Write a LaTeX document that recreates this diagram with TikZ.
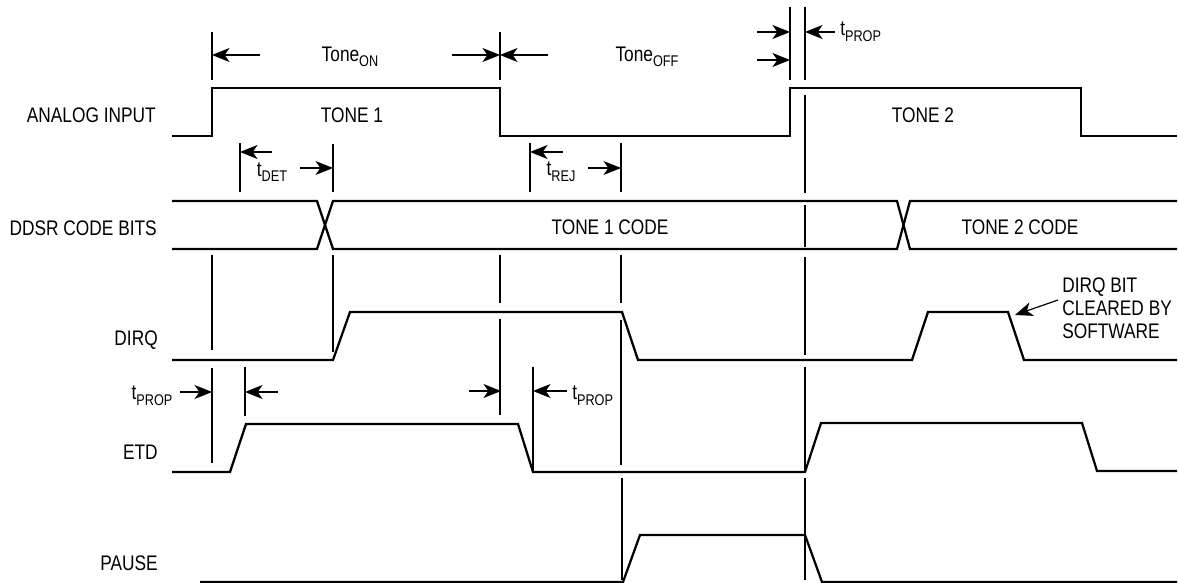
\documentclass[tikz,border=0pt]{standalone}
\usepackage{fontspec}
\setmainfont{Liberation Sans}[FakeStretch=0.82]
\usepackage{tikz}
\usetikzlibrary{arrows.meta,calc}
\newcommand{\lowtext}[1]{\raisebox{-4pt}{\fontsize{11}{11}\selectfont #1}}

\begin{document}
\begin{tikzpicture}[x=0.025cm,y=-0.025cm,
    every node/.style={font=\fontsize{15}{16.5}\selectfont,inner sep=0pt},
    sig/.style={line width=1.6pt,line join=miter},
    guide/.style={line width=0.85pt},
    dim/.style={line width=0.85pt,-{Stealth[length=12.5pt,width=10pt,inset=3.5pt]}}]
    \useasboundingbox (0,0) rectangle (1178,583);

    % row names
    \node[anchor=east] (ain) at (156,115) {ANALOG INPUT};
    \node[anchor=east] (ddsr) at (157,228) {DDSR CODE BITS};
    \node[anchor=east] (dirq) at (158,340) {DIRQ};
    \node[anchor=east] (etd) at (158,452) {ETD};
    \node[anchor=east] (pause) at (158,563) {PAUSE};

    % waveforms
    \draw[sig] (172,136) -- (212,136) -- (212,88) -- (500,88) -- (500,136) -- (790,136) -- (790,88) -- (1081,88) -- (1081,136) -- (1177,136);
    \draw[sig] (172,201) -- (317,201) -- (333,249) -- (897,249) -- (910,201) -- (1177,201);
    \draw[sig] (172,249) -- (317,249) -- (333,201) -- (897,201) -- (910,249) -- (1177,249);
    \draw[sig] (172,360) -- (333,360) -- (350,312) -- (622,312) -- (638,360) -- (912,360) -- (928,312) -- (1008,312) -- (1024,360) -- (1177,360);
    \draw[sig] (172,472) -- (230,472) -- (246,424) -- (518,424) -- (533,472) -- (805,472) -- (821,423) -- (1082,423) -- (1097,471) -- (1177,471);
    \draw[sig] (200,582) -- (623,582) -- (640,535) -- (805,535) -- (822,582) -- (1177,582);

    % signal texts
    \node (toneone) at (352,115) {TONE 1};
    \node (tonetwo) at (923,115) {TONE 2};
    \node (codeone) at (610,227) {TONE 1 CODE};
    \node (codetwo) at (1020,227) {TONE 2 CODE};

    % guide lines
    \foreach \gx/\ya/\yb in {212/32/80, 212/255/350, 212/368/463,
        240/143/192, 245/367/416,
        333/144/192, 333/255/352,
        500/32/80, 500/255/303, 500/319/415,
        530/143/192, 533/367/472,
        621/143/192, 621/255/303, 621/320/465, 622/478/580,
        790/7/80,
        805/7/80, 805/95/193, 805/205/247, 805/257/355, 805/367/470, 805/478/580}
        \draw[guide] (\gx,\ya) -- (\gx,\yb);

    % timing marks
    \node (toneon) at (350,57) {Tone\lowtext{ON}};
    \node (toneoff) at (647,57) {Tone\lowtext{OFF}};
    \draw[dim] (260,55) -- (212,55);
    \draw[dim] (452,55) -- (500,55);
    \draw[dim] (548,55) -- (500,55);
    \draw[dim] (757,32) -- (790,32);
    \draw[dim] (757,60) -- (790,60);
    \draw[dim] (835,32) -- (805,32);
    \node[anchor=west] (tproptop) at (840,32) {t\lowtext{PROP}};

    \node (tdet) at (272,172) {t\lowtext{DET}};
    \draw[dim] (272,152) -- (240,152);
    \draw[dim] (300,168) -- (333,168);
    \node (trej) at (561,172) {t\lowtext{REJ}};
    \draw[dim] (563,152) -- (530,152);
    \draw[dim] (588,168) -- (621,168);

    \node (tpropl) at (152,396) {t\lowtext{PROP}};
    \draw[dim] (180,392) -- (212,392);
    \draw[dim] (278,392) -- (245,392);
    \node[anchor=west] (tpropr) at (572,396) {t\lowtext{PROP}};
    \draw[dim] (469,391) -- (501,391);
    \draw[dim] (567,391) -- (533,391);

    % note on the DIRQ fall
    \node[anchor=west,align=left] (clrnote) at (1062,308) {DIRQ BIT\\CLEARED BY\\SOFTWARE};
    \coordinate (clredge) at (1015,315);
    \draw[dim] ($(clrnote.west)+(-4,-8)$) -- (clredge);
\end{tikzpicture}
\end{document}
